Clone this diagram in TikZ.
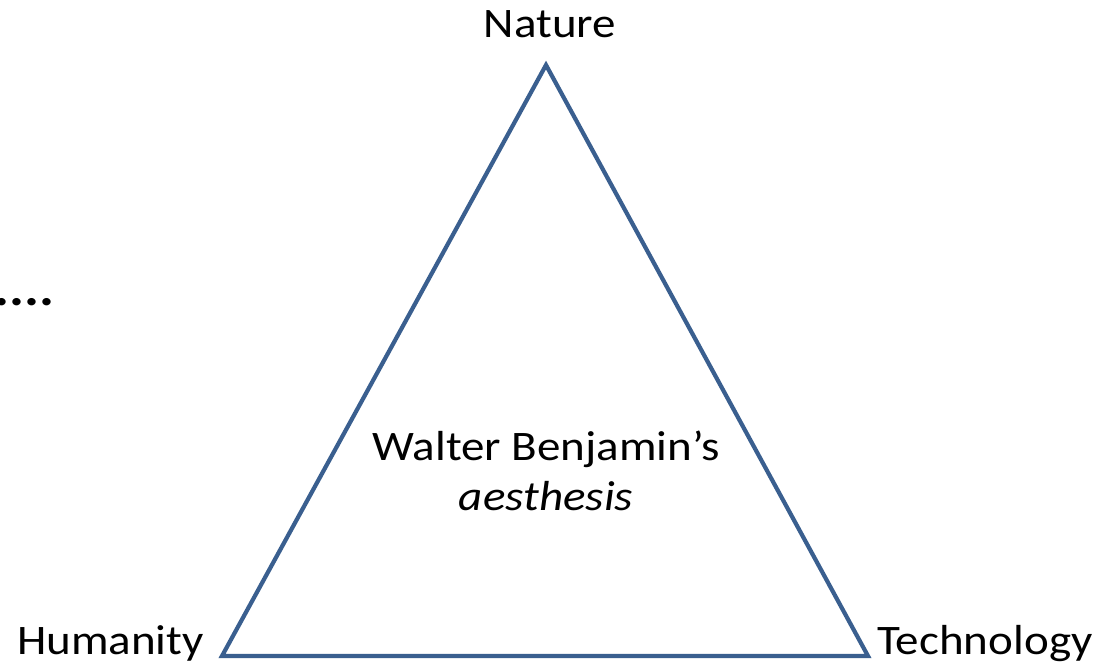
\documentclass[tikz,border=0pt]{standalone}
\usepackage{fontspec}
\setmainfont{Carlito}[FakeStretch=1.12]
\definecolor{edgeblue}{HTML}{3A5F8F}
\begin{document}
\begin{tikzpicture}[x=1pt,y=-1pt,
  label/.style={font=\fontsize{42}{48}\selectfont, text=black, inner sep=0pt},
  edge/.style={draw=edgeblue, line width=4.2pt, line join=miter}]
\useasboundingbox (0,0) rectangle (1101,668);
% corners of the triangle
\coordinate (top) at (546,65);
\coordinate (left) at (222,656);
\coordinate (right) at (868,656);
\draw[edge] (top) -- (left) -- (right) -- cycle;
% labels
\node[label, anchor=base] (nature) at (550,38) {Nature};
\node[label, anchor=base east] (humanity) at (204,654) {Humanity};
\node[label, anchor=base west] (technology) at (877,654) {Technology};
\node[label, anchor=base] (walter) at (546,460) {Walter Benjamin’s};
\node[label, anchor=base] (aesthesis) at (546,510) {\itshape aesthesis};
\node[label, font=\fontsize{50}{56}\selectfont\bfseries, anchor=base west] (dots) at (-5.5,306) {....};
\end{tikzpicture}
\end{document}
